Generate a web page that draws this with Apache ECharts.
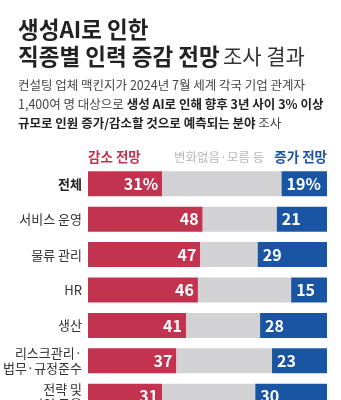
<!DOCTYPE html>
<html><head><meta charset="utf-8">
<script src="https://cdn.jsdelivr.net/npm/echarts@6/dist/echarts.min.js"></script>
<style>html,body{margin:0;padding:0;background:#fff}#c{width:341px;height:400px}</style>
</head><body><div id="c"></div>
<script>
var categories = ['전체', '서비스 운영', '물류 관리', 'HR', '생산', '리스크관리·\n법무·규정준수', '전략 및\n기업 금융'];
var decrease = [31, 48, 47, 46, 41, 37, 31];
var increase = [19, 21, 29, 15, 28, 23, 30];
var unchanged = decrease.map(function (d, i) { return 100 - d - increase[i]; });

var RED = '#c2334f', BLUE = '#1a55a3', GRAY = '#d2d2d4';
var FONT = '"Noto Sans CJK KR", "Noto Sans", sans-serif';

var chart = echarts.init(document.getElementById('c'), null, { renderer: 'canvas' });
chart.setOption({
  backgroundColor: '#fff',
  animation: false,
  textStyle: { fontFamily: FONT },
  graphic: [
    { type: 'text', left: 18, top: 18, style: { text: '생성AI로 인한', font: 'bold 22.5px ' + FONT, fill: '#222' } },
    { type: 'text', left: 18, top: 45, style: {
      text: '{b|직종별 인력 증감 전망} {r|조사 결과}',
      rich: { b: { font: 'bold 22.5px ' + FONT, fill: '#222' }, r: { font: '21px ' + FONT, fill: '#333' } } } },
    { type: 'text', left: 18, top: 79, style: { text: '컨설팅 업체 맥킨지가 2024년 7월 세계 각국 기업 관계자', font: '12.5px ' + FONT, fill: '#444' } },
    { type: 'text', left: 18, top: 98, style: {
      text: '{r|1,400여 명 대상으로 }{b|생성 AI로 인해 향후 3년 사이 3% 이상}',
      rich: { r: { font: '12.5px ' + FONT, fill: '#444' }, b: { font: 'bold 12.5px ' + FONT, fill: '#222' } } } },
    { type: 'text', left: 18, top: 117, style: {
      text: '{b|규모로 인원 증가/감소할 것으로 예측되는 분야}{r| 조사}',
      rich: { r: { font: '12.5px ' + FONT, fill: '#444' }, b: { font: 'bold 12.5px ' + FONT, fill: '#222' } } } },
    { type: 'text', left: 88, top: 150, style: { text: '감소 전망', font: 'bold 13.5px ' + FONT, fill: RED } },
    { type: 'text', left: 174, top: 151, style: { text: '변화없음·모름 등', font: '12.5px ' + FONT, fill: '#b8b8ba' } },
    { type: 'text', right: 14, top: 150, style: { text: '증가 전망', font: 'bold 13.5px ' + FONT, fill: BLUE } }
  ],
  grid: { left: 88, right: 14, top: 166, height: 248, containLabel: false, outerBoundsMode: 'none' },
  xAxis: { type: 'value', min: 0, max: 100, show: false },
  yAxis: {
    type: 'category', data: categories, inverse: true,
    axisLine: { show: false }, axisTick: { show: false },
    axisLabel: {
      margin: 6, fontSize: 13, color: '#333', lineHeight: 15, fontFamily: FONT,
      formatter: function (v, i) { return i === 0 ? '{b|' + v + '}' : v; },
      rich: { b: { fontWeight: 'bold', fontSize: 13, color: '#222', fontFamily: FONT } }
    }
  },
  series: [
    { name: '감소 전망', type: 'bar', stack: 's', data: decrease, barWidth: 25, itemStyle: { color: RED },
      label: { show: true, position: 'insideRight', distance: 4, color: '#fff', fontWeight: 'bold', fontSize: 16, fontFamily: FONT,
        formatter: function (p) { return p.dataIndex === 0 ? p.value + '%' : p.value; } } },
    { name: '변화없음·모름 등', type: 'bar', stack: 's', data: unchanged, barWidth: 25, itemStyle: { color: GRAY } },
    { name: '증가 전망', type: 'bar', stack: 's', data: increase, barWidth: 25, itemStyle: { color: BLUE },
      label: { show: true, position: 'insideLeft', distance: 5, color: '#fff', fontWeight: 'bold', fontSize: 16, fontFamily: FONT,
        formatter: function (p) { return p.dataIndex === 0 ? p.value + '%' : p.value; } } }
  ]
});
</script></body></html>
